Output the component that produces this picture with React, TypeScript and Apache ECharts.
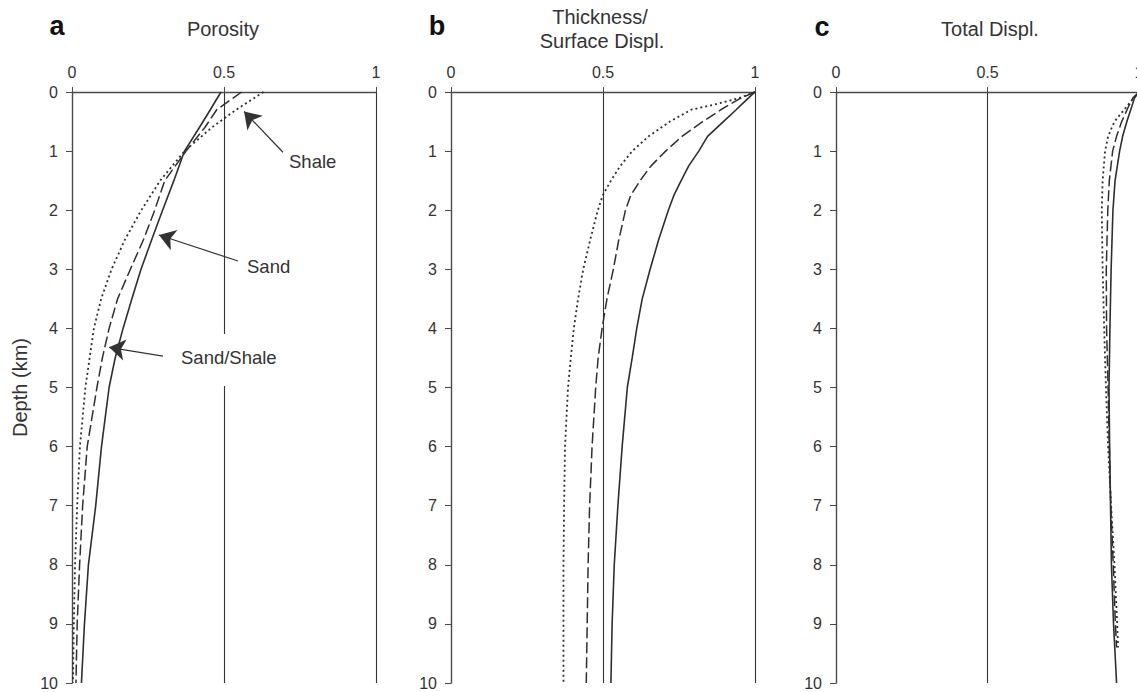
import { useEffect, useRef } from "react";
import * as echarts from "echarts";

// ---- Panel a: Porosity ----
const depthA = [0, 0.3, 0.6, 1.0, 1.5, 2.0, 2.5, 3.0, 3.5, 4.0, 4.5, 5.0, 6.0, 7.0, 8.0, 9.0, 10];
const porositySand = [0.49, 0.455, 0.419, 0.37, 0.335, 0.298, 0.262, 0.227, 0.197, 0.168, 0.142, 0.122, 0.097, 0.078, 0.054, 0.041, 0.031];
const porositySandShale = [0.558, 0.476, 0.437, 0.375, 0.305, 0.272, 0.235, 0.192, 0.15, 0.122, 0.1, 0.082, 0.05, 0.035, 0.025, 0.017, 0.013];
const porosityShale = [0.63, 0.54, 0.46, 0.37, 0.29, 0.228, 0.174, 0.13, 0.096, 0.072, 0.058, 0.044, 0.026, 0.017, 0.01, 0.006, 0.003];

// ---- Panel b: Thickness / Surface Displ. ----
const depthB = [0, 0.1, 0.2, 0.3, 0.5, 0.75, 1.0, 1.25, 1.5, 1.75, 2.0, 2.5, 3.0, 3.5, 4.0, 4.5, 5.0, 6.0, 7.0, 8.0, 9.0, 10];
const thickSand = [1, 0.979, 0.958, 0.938, 0.896, 0.844, 0.815, 0.782, 0.757, 0.733, 0.715, 0.683, 0.655, 0.629, 0.611, 0.596, 0.58, 0.563, 0.549, 0.537, 0.53, 0.526];
const thickSandShale = [1, 0.955, 0.92, 0.888, 0.828, 0.76, 0.706, 0.658, 0.622, 0.591, 0.574, 0.552, 0.534, 0.513, 0.497, 0.484, 0.476, 0.464, 0.456, 0.451, 0.448, 0.445];
const thickShale = [1, 0.949, 0.877, 0.79, 0.72, 0.65, 0.596, 0.557, 0.526, 0.499, 0.483, 0.458, 0.435, 0.418, 0.404, 0.394, 0.385, 0.375, 0.372, 0.37, 0.37, 0.37];

// ---- Panel c: Total Displ. ----
const depthC = [0, 0.1, 0.25, 0.5, 0.75, 1.0, 1.5, 2.0, 3.0, 4.0, 5.0, 6.0, 7.0, 8.0, 9.0, 9.4, 10];
const depthCShort = [0, 0.1, 0.25, 0.5, 0.75, 1.0, 1.5, 2.0, 3.0, 4.0, 5.0, 6.0, 7.0, 8.0, 9.0, 9.4];
const totalSand = [1, 0.985, 0.976, 0.96, 0.946, 0.936, 0.921, 0.914, 0.908, 0.904, 0.901, 0.903, 0.906, 0.909, 0.916, 0.92, 0.926];
const totalSandShale = [1, 0.98, 0.965, 0.943, 0.926, 0.913, 0.902, 0.897, 0.892, 0.893, 0.898, 0.902, 0.907, 0.915, 0.922, 0.926];
const totalShale = [1, 0.982, 0.959, 0.919, 0.898, 0.888, 0.88, 0.877, 0.88, 0.885, 0.891, 0.898, 0.908, 0.919, 0.928, 0.931];

const xTicks = [0, 0.5, 1];
const depthTicks = [0, 1, 2, 3, 4, 5, 6, 7, 8, 9, 10];

// arrows: [labelEnd(x, depth), tip(x, depth)]
const arrowShale = [[0.694, 1.02], [0.566, 0.33]];
const arrowSand = [[0.546, 2.86], [0.286, 2.42]];
const arrowSandShale = [[0.299, 4.47], [0.122, 4.32]];

const FONT = "'Liberation Sans', Arial, Helvetica, sans-serif";
const INK = "#333";

function pairs(xs: number[], ds: number[]) {
  return xs.map((x, i) => [x, ds[i]]);
}

export default function App() {
  const ref = useRef<HTMLDivElement>(null);
  useEffect(() => {
    if (!ref.current) return;
    const chart = echarts.init(ref.current, undefined, { renderer: "svg" });

    const grids = [
      { left: 72, top: 92, width: 304, height: 591, outerBoundsMode: "none", containLabel: false },
      { left: 451, top: 92, width: 304, height: 591, outerBoundsMode: "none", containLabel: false },
      { left: 836, top: 92, width: 303, height: 591, outerBoundsMode: "none", containLabel: false },
    ];

    const xAxes = grids.map((_, i) => ({
      type: "value",
      gridIndex: i,
      position: "top",
      min: xTicks[0],
      max: xTicks[xTicks.length - 1],
      interval: 0.5,
      axisLine: { show: true, onZero: false, lineStyle: { color: "#4a4a4a", width: 1.4 } },
      axisTick: { show: true, length: 5, lineStyle: { color: "#4a4a4a", width: 1 } },
      axisLabel: { show: true, fontSize: 16, color: INK, fontFamily: FONT, margin: 12 },
      splitLine: { show: true, lineStyle: { color: "#333", width: 1.1 } },
    }));

    const yAxes = grids.map((_, i) => ({
      type: "value",
      gridIndex: i,
      inverse: true,
      min: depthTicks[0],
      max: depthTicks[depthTicks.length - 1],
      interval: 1,
      name: i === 0 ? "Depth (km)" : "",
      nameLocation: "middle",
      nameGap: 42,
      nameTextStyle: { fontSize: 20, color: INK, fontFamily: FONT },
      axisLine: { show: true, onZero: false, lineStyle: { color: "#4a4a4a", width: 1.3 } },
      axisTick: { show: true, length: 6, lineStyle: { color: "#4a4a4a", width: 1 } },
      axisLabel: { show: true, fontSize: 16, color: INK, fontFamily: FONT, margin: 14 },
      splitLine: { show: false },
    }));

    const solid = { type: "solid", color: "#2e2e2e", width: 1.6 };
    const dashed = { type: [11, 4], color: "#2e2e2e", width: 1.5 };
    const dotted = { type: [2, 3], color: "#2e2e2e", width: 1.8 };

    const mk = (name: string, i: number, data: number[][], ls: any, extra: any = {}) => ({
      name,
      type: "line",
      xAxisIndex: i,
      yAxisIndex: i,
      data,
      showSymbol: false,
      symbol: "none",
      lineStyle: ls,
      silent: true,
      z: 3,
      ...extra,
    });

    const arrowLine = (a: number[][]) => [{ coord: a[0] }, { coord: a[1] }];

    const series = [
      mk("Sand", 0, pairs(porositySand, depthA), solid, {
        markLine: {
          silent: true,
          symbol: ["none", "arrow"],
          symbolSize: 16,
          precision: 4,
          lineStyle: { type: "solid", color: "#333", width: 1.2 },
          itemStyle: { color: "#333" },
          label: { show: false },
          emphasis: { disabled: true },
          data: [arrowLine(arrowShale), arrowLine(arrowSand), arrowLine(arrowSandShale)],
        },
      }),
      mk("Sand/Shale", 0, pairs(porositySandShale, depthA), dashed),
      mk("Shale", 0, pairs(porosityShale, depthA), dotted),
      mk("Sand", 1, pairs(thickSand, depthB), solid),
      mk("Sand/Shale", 1, pairs(thickSandShale, depthB), dashed),
      mk("Shale", 1, pairs(thickShale, depthB), dotted),
      mk("Sand", 2, pairs(totalSand, depthC), solid),
      mk("Sand/Shale", 2, pairs(totalSandShale, depthCShort), dashed),
      mk("Shale", 2, pairs(totalShale, depthCShort), dotted),
    ];

    const txt = (text: string, x: number, y: number, size: number, bold = false, align = "center") => ({
      type: "text",
      x,
      y,
      z: 100,
      silent: true,
      style: {
        text,
        fontSize: size,
        fontWeight: bold ? "bold" : "normal",
        fontFamily: FONT,
        fill: bold ? "#111" : INK,
        textAlign: align,
        textVerticalAlign: "middle",
        align,
        verticalAlign: "middle",
      },
    });

    const graphic = [
      txt("a", 57, 26, 27, true),
      txt("Porosity", 223, 29, 20),
      txt("b", 437, 26, 27, true),
      txt("Thickness/", 600, 17, 20),
      txt("Surface Displ.", 602, 41, 20),
      txt("c", 822, 27, 27, true),
      txt("Total Displ.", 990, 29, 20),
      {
        type: "rect",
        z: 90,
        silent: true,
        shape: { x: 177, y: 334, width: 106, height: 52 },
        style: { fill: "#fff" },
      },
      txt("Shale", 289, 161, 18.5, false, "left"),
      txt("Sand", 247, 266, 18.5, false, "left"),
      txt("Sand/Shale", 181, 357, 18.5, false, "left"),
    ];

    chart.setOption({
      animation: false,
      backgroundColor: "#fff",
      grid: grids,
      xAxis: xAxes,
      yAxis: yAxes,
      series,
      graphic,
    });
    return () => chart.dispose();
  }, []);

  return (
    <div
      ref={ref}
      style={{ position: "absolute", left: 0, top: 0, width: 1137, height: 692, background: "#fff" }}
    />
  );
}
